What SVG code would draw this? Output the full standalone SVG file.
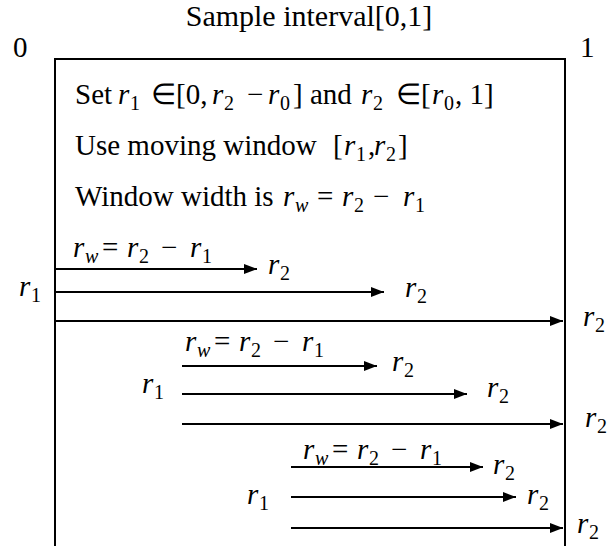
<svg xmlns="http://www.w3.org/2000/svg" width="608" height="546" viewBox="0 0 608 546">
<style>
.t{font-family:"Liberation Serif","Times New Roman",serif;font-size:29px;fill:#000}
.m{font-style:italic}
.s{font-size:20px;font-style:normal}
.si{font-size:20px;font-style:italic}
.box{fill:none;stroke:#000;stroke-width:2}
.arr{stroke:#000;stroke-width:2;fill:none;marker-end:url(#ah)}
</style>
<defs>
<marker id="ah" markerUnits="userSpaceOnUse" markerWidth="14" markerHeight="11" refX="13" refY="5" orient="auto">
<path d="M0,0 L13,5 L0,10 Z" fill="#000"/>
</marker>
</defs>
<rect width="608" height="546" fill="#fff"/>

<g id="title">
<text class="t" x="309" y="26" text-anchor="middle" style="font-size:30px">Sample interval[0,1]</text>
<text class="t" x="13" y="57">0</text>
<text class="t" x="580" y="57">1</text>
</g>

<g id="interval-box">
<path class="box" d="M55,546 V59 H565 V546"/>
</g>

<g id="rules">
<text class="t"><tspan x="75" y="104">Set</tspan><tspan class="m" x="118" y="104">r</tspan><tspan class="s" x="130" y="110">1</tspan><tspan x="151" y="104">∈[0,</tspan><tspan class="m" x="212" y="104">r</tspan><tspan class="s" x="224" y="110">2</tspan><tspan x="247" y="104">−</tspan><tspan class="m" x="268" y="104">r</tspan><tspan class="s" x="280" y="110">0</tspan><tspan x="293" y="104">] and</tspan><tspan class="m" x="361" y="104">r</tspan><tspan class="s" x="373" y="110">2</tspan><tspan x="396" y="104">∈[</tspan><tspan class="m" x="432" y="104">r</tspan><tspan class="s" x="444" y="110">0</tspan><tspan x="455" y="104">, 1]</tspan></text>
<text class="t"><tspan x="75" y="155">Use moving window</tspan><tspan x="333" y="155">[</tspan><tspan class="m" x="344" y="155">r</tspan><tspan class="s" x="356" y="161">1</tspan><tspan x="368" y="155">,</tspan><tspan class="m" x="374" y="155">r</tspan><tspan class="s" x="386" y="161">2</tspan><tspan x="398" y="155">]</tspan></text>
<text class="t"><tspan x="75" y="206">Window width is</tspan><tspan class="m" x="283" y="206">r</tspan><tspan class="si" x="295" y="212">w</tspan><tspan x="317" y="206">=</tspan><tspan class="m" x="342" y="206">r</tspan><tspan class="s" x="354" y="212">2</tspan><tspan x="373" y="206">−</tspan><tspan class="m" x="403" y="206">r</tspan><tspan class="s" x="415" y="212">1</tspan></text>
</g>

<g id="connectors">
<line class="arr" x1="56" y1="269" x2="257" y2="269"/>
<line class="arr" x1="56" y1="292" x2="384" y2="292"/>
<line class="arr" x1="56" y1="321" x2="563" y2="321"/>
<line class="arr" x1="182" y1="366" x2="377" y2="366"/>
<line class="arr" x1="182" y1="394" x2="467" y2="394"/>
<line class="arr" x1="182" y1="424" x2="563" y2="424"/>
<line class="arr" x1="291" y1="467" x2="483" y2="467"/>
<line class="arr" x1="291" y1="497" x2="516" y2="497"/>
<line class="arr" x1="291" y1="528" x2="563" y2="528"/>
</g>

<g id="window-1">
<text class="t"><tspan class="m" x="73" y="257">r</tspan><tspan class="si" x="85" y="263">w</tspan><tspan x="102" y="257">=</tspan><tspan class="m" x="127" y="257">r</tspan><tspan class="s" x="139" y="263">2</tspan><tspan x="161" y="257">−</tspan><tspan class="m" x="190" y="257">r</tspan><tspan class="s" x="202" y="263">1</tspan></text>
<text class="t"><tspan class="m" x="19" y="296">r</tspan><tspan class="s" x="31" y="302">1</tspan></text>
<text class="t"><tspan class="m" x="268" y="274">r</tspan><tspan class="s" x="280" y="280">2</tspan></text>
<text class="t"><tspan class="m" x="405" y="297">r</tspan><tspan class="s" x="417" y="303">2</tspan></text>
<text class="t"><tspan class="m" x="583" y="326">r</tspan><tspan class="s" x="595" y="332">2</tspan></text>
</g>

<g id="window-2">
<text class="t"><tspan class="m" x="185" y="351">r</tspan><tspan class="si" x="197" y="357">w</tspan><tspan x="214" y="351">=</tspan><tspan class="m" x="239" y="351">r</tspan><tspan class="s" x="251" y="357">2</tspan><tspan x="273" y="351">−</tspan><tspan class="m" x="302" y="351">r</tspan><tspan class="s" x="314" y="357">1</tspan></text>
<text class="t"><tspan class="m" x="142" y="393">r</tspan><tspan class="s" x="154" y="399">1</tspan></text>
<text class="t"><tspan class="m" x="392" y="371">r</tspan><tspan class="s" x="404" y="377">2</tspan></text>
<text class="t"><tspan class="m" x="487" y="397">r</tspan><tspan class="s" x="499" y="403">2</tspan></text>
<text class="t"><tspan class="m" x="585" y="427">r</tspan><tspan class="s" x="597" y="433">2</tspan></text>
</g>

<g id="window-3">
<text class="t"><tspan class="m" x="303" y="459">r</tspan><tspan class="si" x="315" y="465">w</tspan><tspan x="332" y="459">=</tspan><tspan class="m" x="357" y="459">r</tspan><tspan class="s" x="369" y="465">2</tspan><tspan x="391" y="459">−</tspan><tspan class="m" x="420" y="459">r</tspan><tspan class="s" x="432" y="465">1</tspan></text>
<text class="t"><tspan class="m" x="247" y="504">r</tspan><tspan class="s" x="259" y="510">1</tspan></text>
<text class="t"><tspan class="m" x="493" y="474">r</tspan><tspan class="s" x="505" y="480">2</tspan></text>
<text class="t"><tspan class="m" x="527" y="504">r</tspan><tspan class="s" x="539" y="510">2</tspan></text>
<text class="t"><tspan class="m" x="577" y="533">r</tspan><tspan class="s" x="589" y="539">2</tspan></text>
</g>
</svg>
